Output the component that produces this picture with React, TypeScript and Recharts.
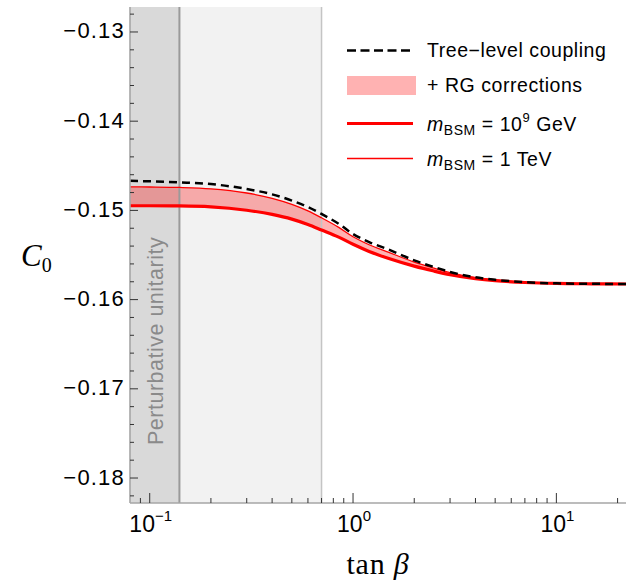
import React from "react";
import {
  ComposedChart,
  Line,
  Area,
  XAxis,
  YAxis,
  ReferenceArea,
  ReferenceLine,
  Customized,
} from "recharts";

// ---- data ----
const tanBeta = [0.08, 0.1, 0.14, 0.2, 0.3, 0.4, 0.5, 0.6, 0.7, 0.85, 1, 1.2, 1.5, 2, 2.5, 3, 4, 5, 7, 10, 15, 22];
const treeLevel = [-0.14669, -0.14674, -0.14686, -0.14705, -0.1476, -0.1482, -0.1489, -0.14962, -0.1504, -0.1515, -0.15265, -0.15355, -0.1544, -0.1556, -0.15635, -0.1569, -0.1575, -0.15778, -0.15805, -0.15818, -0.15823, -0.15825];
const bsm1e9GeV = [-0.14948, -0.14948, -0.1495, -0.1496, -0.14998, -0.15045, -0.15098, -0.15158, -0.1522, -0.153, -0.1538, -0.1546, -0.1554, -0.15625, -0.1568, -0.1572, -0.15765, -0.15788, -0.15808, -0.15819, -0.15823, -0.15825];
const bsm1TeV = [-0.14736, -0.14738, -0.14743, -0.14758, -0.14805, -0.14865, -0.14932, -0.15005, -0.15083, -0.1519, -0.15295, -0.15385, -0.1547, -0.1558, -0.15648, -0.15698, -0.15755, -0.1578, -0.15806, -0.15818, -0.15823, -0.15825];

const xDomain = [0.08, 22];
const yDomain = [-0.1828, -0.1272];
const xMajorTicks = [0.1, 1, 10];
const xMajorLabels = ["−1", "0", "1"];
const xMinorTicks = [0.09, 0.2, 0.3, 0.4, 0.5, 0.6, 0.7, 0.8, 0.9, 2, 3, 4, 5, 6, 7, 8, 9, 20];
const yMajorTicks = [-0.18, -0.17, -0.16, -0.15, -0.14, -0.13];
const yMajorLabels = ["−0.18", "−0.17", "−0.16", "−0.15", "−0.14", "−0.13"];
const yMinorTicks = [-0.182, -0.178, -0.176, -0.174, -0.172, -0.168, -0.166, -0.164, -0.162, -0.158, -0.156, -0.154, -0.152, -0.148, -0.146, -0.144, -0.142, -0.138, -0.136, -0.134, -0.132, -0.128];
const unitarityLimit = 0.14;
const shadedLimit = 0.7;
const regionLabel = "Perturbative unitarity";

const data = tanBeta.map((t, i) => ({
  t,
  tree: treeLevel[i],
  high: bsm1e9GeV[i],
  low: bsm1TeV[i],
  band: [bsm1e9GeV[i], bsm1TeV[i]],
}));

const xTicksAll = [...xMajorTicks, ...xMinorTicks].sort((a, b) => a - b);
const yTicksAll = [...yMajorTicks, ...yMinorTicks].sort((a, b) => a - b);

const SANS = "'Liberation Sans', Arial, Helvetica, sans-serif";
const SERIF = "'Liberation Serif', 'Times New Roman', serif";
const TICK = "#333";
const FRAME = "#a6a6a6";

const isMajor = (arr: number[], v: number) => arr.some((m) => Math.abs(m - v) < 1e-9);

const XTickBottom = (props: any) => {
  const { x, y, payload } = props;
  const v = payload.value;
  const idx = xMajorTicks.findIndex((m) => Math.abs(m - v) < 1e-9);
  const major = idx >= 0;
  return (
    <g>
      <line x1={x} x2={x} y1={y} y2={y - (major ? 10 : 5)} stroke={TICK} strokeWidth={1} />
      {major && (
        <text x={x + 1} y={y + 29} textAnchor="middle" fontFamily={SANS} fontSize={23} fill="#000">
          10
          <tspan dy={-11} fontSize={15}>{xMajorLabels[idx]}</tspan>
        </text>
      )}
    </g>
  );
};

const XTickTop = (props: any) => {
  const { x, y, payload } = props;
  const major = isMajor(xMajorTicks, payload.value);
  return <line x1={x} x2={x} y1={y} y2={y + (major ? 10 : 5)} stroke={TICK} strokeWidth={1} />;
};

const YTickLeft = (props: any) => {
  const { x, y, payload } = props;
  const v = payload.value;
  const idx = yMajorTicks.findIndex((m) => Math.abs(m - v) < 1e-9);
  const major = idx >= 0;
  return (
    <g>
      <line x1={x} x2={x + (major ? 8 : 4)} y1={y} y2={y} stroke={TICK} strokeWidth={1} />
      {major && (
        <text x={x - 5} y={y + 6.5} textAnchor="end" fontFamily={SANS} fontSize={22} letterSpacing={1.2} fill="#000">
          {yMajorLabels[idx]}
        </text>
      )}
    </g>
  );
};

const YTickRight = (props: any) => {
  const { x, y, payload } = props;
  const major = isMajor(yMajorTicks, payload.value);
  return <line x1={x} x2={x - (major ? 8 : 4)} y1={y} y2={y} stroke={TICK} strokeWidth={1} />;
};

const RegionLabel = (props: any) => {
  const vb = props.viewBox || {};
  const cx = vb.x + vb.width / 2 + 8;
  const by = vb.y + vb.height - 58;
  return (
    <text
      x={0}
      y={0}
      transform={`translate(${cx},${by}) rotate(-90)`}
      fontFamily={SANS}
      fontSize={21.5}
      letterSpacing={0.5}
      fill="#8a8a8a"
    >
      {regionLabel}
    </text>
  );
};

const Overlay = () => (
  <g>
    {/* legend */}
    <g fontFamily={SANS} fontSize={19.5} letterSpacing={0.55} fill="#000">
      <line x1={347} x2={413} y1={50.5} y2={50.5} stroke="#000" strokeWidth={2.5} strokeDasharray="9 4.5" />
      <text x={427} y={57}>Tree−level coupling</text>
      <rect x={347} y={76} width={69} height={19} fill="#ff0000" fillOpacity={0.3} />
      <text x={427} y={92}>+ RG corrections</text>
      <line x1={347} x2={413} y1={123.5} y2={123.5} stroke="#ff0000" strokeWidth={3.2} />
      <text x={427} y={131}>
        <tspan fontStyle="italic">m</tspan>
        <tspan fontSize={14} dy={4}>BSM</tspan>
        <tspan dy={-4}> = 10</tspan>
        <tspan fontSize={13} dy={-9}>9</tspan>
        <tspan dy={9}> GeV</tspan>
      </text>
      <line x1={347} x2={413} y1={158.5} y2={158.5} stroke="#ff0000" strokeWidth={1.3} />
      <text x={427} y={166}>
        <tspan fontStyle="italic">m</tspan>
        <tspan fontSize={14} dy={4}>BSM</tspan>
        <tspan dy={-4}> = 1 TeV</tspan>
      </text>
    </g>
    {/* axis titles */}
    <text x={21} y={266} fontFamily={SERIF} fontSize={31} fontStyle="italic" fill="#000">
      C<tspan fontStyle="normal" fontSize={20} dy={6}>0</tspan>
    </text>
    <text x={378} y={574} textAnchor="middle" fontFamily={SERIF} fontSize={30} letterSpacing={0.8} fill="#000">
      tan <tspan fontStyle="italic">β</tspan>
    </text>
  </g>
);

export default function App() {
  return (
    <div style={{ position: "absolute", left: 0, top: 0 }}>
      <ComposedChart
        width={637}
        height={587}
        data={data}
        margin={{ top: 7, right: 11, bottom: 24, left: 0 }}
      >
        <XAxis
          dataKey="t"
          type="number"
          scale="log"
          domain={xDomain}
          allowDataOverflow
          ticks={xTicksAll}
          interval={0}
          tick={<XTickBottom />}
          tickLine={false}
          tickSize={0}
          tickMargin={0}
          height={60}
          axisLine={{ stroke: FRAME, strokeWidth: 1.6 }}
        />
        <XAxis
          xAxisId="top"
          orientation="top"
          dataKey="t"
          type="number"
          scale="log"
          domain={xDomain}
          allowDataOverflow
          ticks={xTicksAll}
          interval={0}
          tick={<XTickTop />}
          tickLine={false}
          tickSize={0}
          tickMargin={0}
          height={0}
          axisLine={{ stroke: FRAME, strokeWidth: 1.6 }}
        />
        <YAxis
          type="number"
          domain={yDomain}
          allowDataOverflow
          ticks={yTicksAll}
          interval={0}
          tick={<YTickLeft />}
          tickLine={false}
          tickSize={0}
          tickMargin={0}
          width={130}
          axisLine={{ stroke: FRAME, strokeWidth: 1.6 }}
        />
        <YAxis
          yAxisId="right"
          orientation="right"
          type="number"
          domain={yDomain}
          allowDataOverflow
          ticks={yTicksAll}
          interval={0}
          tick={<YTickRight />}
          tickLine={false}
          tickSize={0}
          tickMargin={0}
          width={0}
          axisLine={{ stroke: FRAME, strokeWidth: 1.6 }}
        />
        <ReferenceArea
          x1={xDomain[0]}
          x2={unitarityLimit}
          fill="#d9d9d9"
          fillOpacity={1}
          stroke="none"
          label={(p: any) => <RegionLabel {...p} />}
        />
        <ReferenceArea x1={unitarityLimit} x2={shadedLimit} fill="#f2f2f2" fillOpacity={1} stroke="none" />
        <ReferenceLine x={unitarityLimit} stroke="#9a9a9a" strokeWidth={2} />
        <ReferenceLine x={shadedLimit} stroke="#c4c4c4" strokeWidth={1.5} />
        <Area
          dataKey="band"
          type="monotone"
          fill="#ff0000"
          fillOpacity={0.3}
          stroke="none"
          isAnimationActive={false}
          dot={false}
          activeDot={false}
        />
        <Line dataKey="low" type="monotone" stroke="#ff0000" strokeWidth={1.3} dot={false} activeDot={false} isAnimationActive={false} />
        <Line dataKey="high" type="monotone" stroke="#ff0000" strokeWidth={3.2} dot={false} activeDot={false} isAnimationActive={false} />
        <Line dataKey="tree" type="monotone" stroke="#000" strokeWidth={2.5} strokeDasharray="8 5" dot={false} activeDot={false} isAnimationActive={false} />
        <Customized component={Overlay} />
      </ComposedChart>
    </div>
  );
}
